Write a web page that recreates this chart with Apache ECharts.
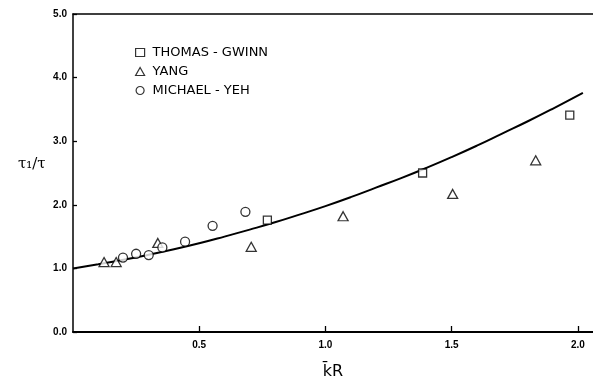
<!DOCTYPE html>
<html><head><meta charset="utf-8">
<script src="https://cdn.jsdelivr.net/npm/echarts@6/dist/echarts.min.js"></script>
<style>html,body{margin:0;padding:0;background:#fff}#c{width:593px;height:382px}</style>
</head><body><div id="c"></div>
<script>
// Data
const thomasX = [0.77, 1.385, 1.968];
const thomasY = [1.76, 2.50, 3.41];
const yangX = [0.123, 0.171, 0.336, 0.706, 1.07, 1.504, 1.833];
const yangY = [1.10, 1.10, 1.40, 1.34, 1.82, 2.17, 2.70];
const michaelX = [0.198, 0.25, 0.30, 0.354, 0.444, 0.553, 0.683];
const michaelY = [1.17, 1.23, 1.21, 1.33, 1.42, 1.67, 1.89];
const curveX = [0, 0.1, 0.2, 0.3, 0.4, 0.5, 0.6, 0.7, 0.8, 0.9, 1.0, 1.1, 1.2, 1.3, 1.4, 1.5, 1.6, 1.7, 1.8, 1.9, 2.02];
const curveY = [1.00, 1.065, 1.135, 1.215, 1.30, 1.395, 1.50, 1.61, 1.725, 1.85, 1.98, 2.12, 2.27, 2.42, 2.58, 2.75, 2.93, 3.12, 3.31, 3.51, 3.76];
const xTicks = [0.5, 1.0, 1.5, 2.0];
const yTicks = [0, 1, 2, 3, 4, 5];
const seriesNames = ['THOMAS - GWINN', 'YANG', 'MICHAEL - YEH'];

const zip = (a, b) => a.map((v, i) => [v, b[i]]);
const chart = echarts.init(document.getElementById('c'));
const ptStyle = { color: '#fff', borderColor: '#000', borderWidth: 1.3 };
const lblFont = { color: '#000', fontFamily: 'Liberation Sans', fontSize: 10, fontWeight: 'bold' };
const legStyle = { color: '#fff', borderColor: '#000', borderWidth: 1.2 };

chart.setOption({
  animation: false,
  backgroundColor: '#fff',
  grid: { left: 73, right: 0, top: 14, bottom: 50, outerBoundsMode: 'none', containLabel: false },
  legend: {
    data: [
      { name: seriesNames[0], icon: 'rect', itemStyle: legStyle },
      { name: seriesNames[1], icon: 'triangle', itemStyle: legStyle },
      { name: seriesNames[2], icon: 'circle', itemStyle: legStyle }
    ],
    orient: 'vertical',
    left: 130, top: 41,
    itemWidth: 9, itemHeight: 8, itemGap: 6,
    textStyle: { color: '#000', fontFamily: 'DejaVu Sans', fontSize: 13, padding: [0, 0, 0, 3] }
  },
  xAxis: [{
    type: 'value', min: 0, max: 2.06, interval: 0.5,
    axisLine: { show: true, lineStyle: { color: '#000', width: 2 } },
    axisTick: { show: true, inside: true, length: 6, customValues: xTicks, lineStyle: { color: '#000', width: 1.3 } },
    axisLabel: { customValues: xTicks, margin: 8, formatter: v => v.toFixed(1), ...lblFont },
    splitLine: { show: false },
    name: 'k\u0304R', nameLocation: 'middle', nameGap: 32,
    nameTextStyle: { color: '#000', fontFamily: 'DejaVu Sans', fontSize: 16 }
  }, {
    type: 'value', min: 0, max: 2.06, position: 'top',
    axisLine: { show: true, lineStyle: { color: '#000', width: 1.5 } },
    axisTick: { show: false }, axisLabel: { show: false }, splitLine: { show: false }
  }],
  yAxis: {
    type: 'value', min: 0, max: 5, interval: 1,
    axisLine: { show: true, lineStyle: { color: '#000', width: 1.5 } },
    axisTick: { show: true, inside: true, length: 4, lineStyle: { color: '#000', width: 1.3 } },
    axisLabel: { margin: 6, formatter: v => v.toFixed(1), ...lblFont },
    splitLine: { show: false }
  },
  graphic: [{
    type: 'text', left: 18, top: 157,
    style: { text: 'τ\u2081/τ', fill: '#000', font: '15px DejaVu Serif' }
  }],
  series: [
    { type: 'line', data: zip(curveX, curveY), smooth: true, showSymbol: false, symbol: 'none',
      lineStyle: { color: '#000', width: 2 }, z: 1 },
    { name: seriesNames[0], type: 'scatter', symbol: 'rect', symbolSize: 8,
      data: zip(thomasX, thomasY), itemStyle: ptStyle, z: 3 },
    { name: seriesNames[1], type: 'scatter', symbol: 'triangle', symbolSize: [10, 9],
      data: zip(yangX, yangY), itemStyle: ptStyle, z: 3 },
    { name: seriesNames[2], type: 'scatter', symbol: 'circle', symbolSize: 9,
      data: zip(michaelX, michaelY), itemStyle: ptStyle, z: 3 }
  ]
});
</script></body></html>
